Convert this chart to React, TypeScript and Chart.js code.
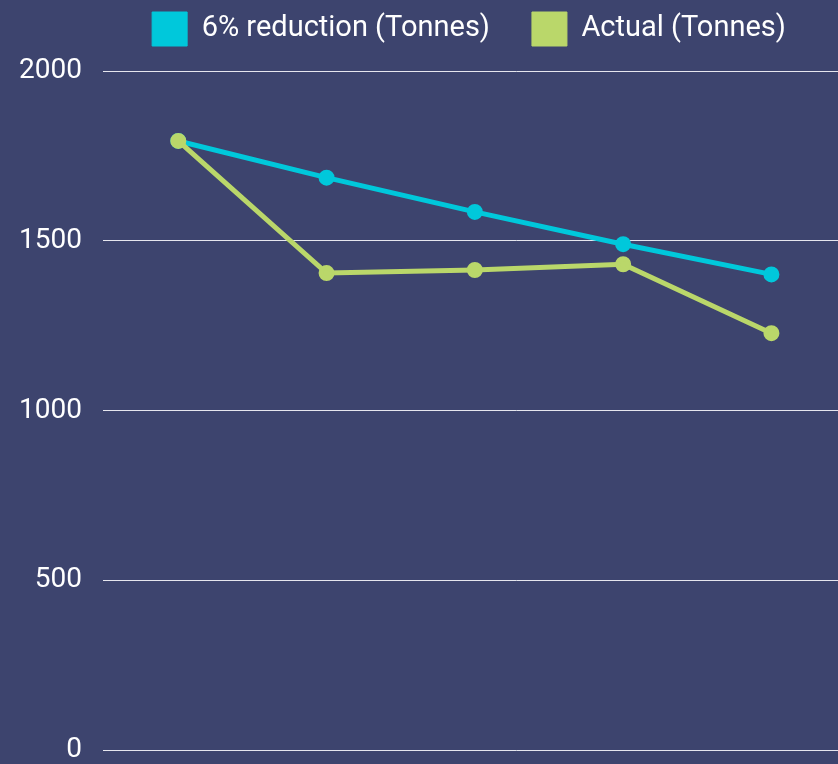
import React, { useEffect, useRef } from "react";
import { Chart, registerables } from "chart.js";

Chart.register(...registerables);

const categories = ["1", "2", "3", "4", "5"];
const reductionValues = [1794, 1686, 1585, 1490, 1401];
const actualValues = [1794, 1405, 1414, 1431, 1228];
const yTicks = [0, 500, 1000, 1500, 2000];
const seriesNames = ["6% reduction (Tonnes)", "Actual (Tonnes)"];

const BG = "#3d446e";
const CYAN = "#00c8db";
const GREEN = "#bad76a";

const LEGEND_HEIGHT = 101;

const legendFitPlugin = {
  id: "legendFit",
  afterInit(chart: any) {
    const legend = chart.legend;
    if (!legend) return;
    const orig = legend.fit.bind(legend);
    legend.fit = function () {
      orig();
      this.height = LEGEND_HEIGHT;
    };
  },
};

export default function App() {
  const ref = useRef<HTMLCanvasElement | null>(null);

  useEffect(() => {
    if (!ref.current) return;
    const toPoints = (vals: number[]) => vals.map((v, i) => ({ x: i, y: v }));
    const chart = new Chart(ref.current, {
      type: "line",
      data: {
        labels: categories,
        datasets: [
          {
            label: seriesNames[0],
            data: toPoints(reductionValues),
            borderColor: CYAN,
            backgroundColor: CYAN,
            pointBackgroundColor: CYAN,
            pointBorderColor: CYAN,
            borderWidth: 5,
            pointRadius: 5.5,
            tension: 0,
            order: 1,
          },
          {
            label: seriesNames[1],
            data: toPoints(actualValues),
            borderColor: GREEN,
            backgroundColor: GREEN,
            pointBackgroundColor: GREEN,
            pointBorderColor: GREEN,
            borderWidth: 5,
            pointRadius: 5.5,
            tension: 0,
            order: 0,
          },
        ],
      },
      plugins: [legendFitPlugin],
      options: {
        animation: false,
        responsive: false,
        maintainAspectRatio: false,
        layout: { padding: { left: -2, right: 0, top: -30, bottom: 0 } },
        plugins: {
          tooltip: { enabled: false },
          legend: {
            position: "top",
            align: "center",
            labels: {
              color: "#ffffff",
              font: { family: "Roboto", size: 29 },
              boxWidth: 35,
              boxHeight: 34,
              padding: 42,
              sort: (a: any, b: any) => a.datasetIndex - b.datasetIndex,
              generateLabels: (c: any) =>
                (Chart as any).defaults.plugins.legend.labels
                  .generateLabels(c)
                  .map((l: any) => ({ ...l, lineWidth: 1 })),
            },
          },
        },
        scales: {
          x: {
            type: "linear",
            display: false,
            min: -0.508,
            max: 5.066,
          },
          y: {
            min: 0,
            max: 2000,
            afterBuildTicks: (axis: any) => {
              axis.ticks = yTicks.map((v) => ({ value: v }));
            },
            border: { display: false },
            grid: { color: "#e6e6ee", lineWidth: 1, drawTicks: false },
            ticks: {
              color: "#ffffff",
              font: { family: "Roboto", size: 28 },
              padding: 21,
              callback: (v: any) => String(v),
            },
          },
        },
      },
    });
    return () => chart.destroy();
  }, []);

  return (
    <div
      style={{
        position: "fixed",
        left: 0,
        top: 0,
        width: 838,
        height: 764,
        overflow: "hidden",
        background: BG,
      }}
    >
      <canvas ref={ref} width={940} height={788} style={{ display: "block" }} />
    </div>
  );
}
